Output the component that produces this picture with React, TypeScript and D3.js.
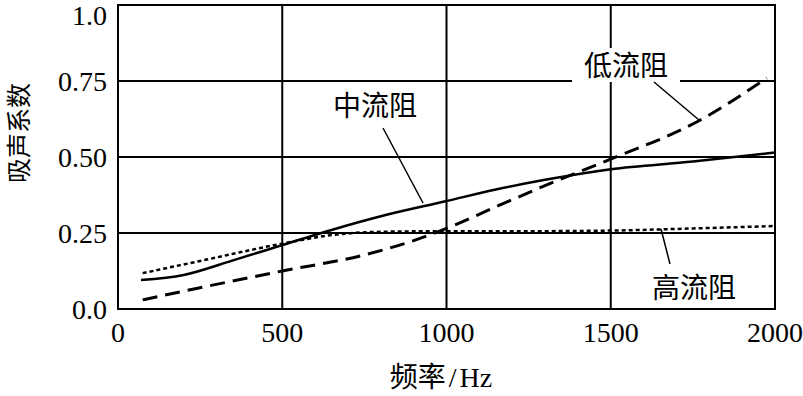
import * as d3 from 'd3'

const xTicks = [0, 500, 1000, 1500, 2000]
const yTicks = [0, 0.25, 0.5, 0.75, 1.0]
const yTickLabels = ['0.0', '0.25', '0.50', '0.75', '1.0']

// 中流阻 (solid)
const midFreq = [70, 200, 350, 500, 650, 800, 1000, 1150, 1300, 1500, 1750, 2000]
const midVals = [0.095, 0.112, 0.16, 0.21, 0.26, 0.305, 0.355, 0.393, 0.425, 0.46, 0.485, 0.515]

// 低流阻 (dashed)
const lowFreq = [75, 250, 500, 750, 900, 1000, 1150, 1320, 1500, 1770, 1975]
const lowVals = [0.03, 0.07, 0.125, 0.178, 0.225, 0.265, 0.336, 0.415, 0.493, 0.62, 0.76]

// 高流阻 (dotted)
const highFreq = [75, 250, 500, 650, 800, 1000, 1250, 1500, 1750, 2000]
const highVals = [0.118, 0.158, 0.215, 0.243, 0.254, 0.256, 0.256, 0.258, 0.265, 0.273]

const W = 803
const H = 396
const left = 118
const right = 775
const top = 5
const bottom = 309

const serif = '"Liberation Serif", "DejaVu Serif", serif'
const cjk = '"Noto Sans CJK SC", sans-serif'

const App = () => {
    const x = d3.scaleLinear().domain([0, 2000]).range([left, right])
    const y = d3.scaleLinear().domain([0, 1]).range([bottom, top])

    const line = d3
        .line<[number, number]>()
        .x(d => x(d[0]))
        .y(d => y(d[1]))
        .curve(d3.curveMonotoneX)

    const mid = line(midFreq.map((f, i) => [f, midVals[i]]))
    const low = line(lowFreq.map((f, i) => [f, lowVals[i]]))
    const high = line(highFreq.map((f, i) => [f, highVals[i]]))

    return (
        <svg width={W} height={H} style={{ position: 'absolute', left: 0, top: 0, background: '#fff' }}>
            {xTicks.map(t => (
                <line key={'gx' + t} x1={x(t)} x2={x(t)} y1={top} y2={bottom} stroke="#000" strokeWidth={2} />
            ))}
            {yTicks.map(t => (
                <line key={'gy' + t} x1={left} x2={right} y1={y(t)} y2={y(t)} stroke="#000" strokeWidth={2} />
            ))}
            <rect x={left} y={top} width={right - left} height={bottom - top} fill="none" stroke="#000" strokeWidth={2} />

            {xTicks.map(t => (
                <text key={'tx' + t} x={x(t)} y={342} textAnchor="middle" fontFamily={serif} fontSize={28}>
                    {t}
                </text>
            ))}
            {yTicks.map((t, i) => (
                <text
                    key={'ty' + t}
                    x={107}
                    y={t === 1 ? 15 : y(t)}
                    dy="0.35em"
                    textAnchor="end"
                    fontFamily={serif}
                    fontSize={28}
                >
                    {yTickLabels[i]}
                </text>
            ))}

            <text x={441} y={387} textAnchor="middle" fontSize={28}>
                <tspan fontFamily={cjk}>频率</tspan>
                <tspan fontFamily={serif} dx={3}>/</tspan>
                <tspan fontFamily={serif} dx={3}>Hz</tspan>
            </text>
            <text
                transform="translate(28,133) rotate(-90)"
                textAnchor="middle"
                fontFamily={cjk}
                fontSize={25}
            >
                吸声系数
            </text>

            <path d={mid} fill="none" stroke="#000" strokeWidth={2.5} />
            <path d={low} fill="none" stroke="#000" strokeWidth={3} strokeDasharray="15 8" />
            <path d={high} fill="none" stroke="#000" strokeWidth={2.5} strokeDasharray="4 3" />

            {/* annotations */}
            <line x1={383} y1={128} x2={423} y2={203} stroke="#000" strokeWidth={1.5} />
            <text x={375} y={116} textAnchor="middle" fontFamily={cjk} fontSize={28}>中流阻</text>

            <rect x={572} y={48} width={108} height={34} fill="#fff" />
            <line x1={654} y1={82} x2={699} y2={120} stroke="#000" strokeWidth={1.5} />
            <text x={626} y={76} textAnchor="middle" fontFamily={cjk} fontSize={28}>低流阻</text>

            <line x1={661} y1={229} x2={670} y2={264} stroke="#000" strokeWidth={1.5} />
            <text x={694} y={298} textAnchor="middle" fontFamily={cjk} fontSize={28}>高流阻</text>
        </svg>
    )
}

export default App
